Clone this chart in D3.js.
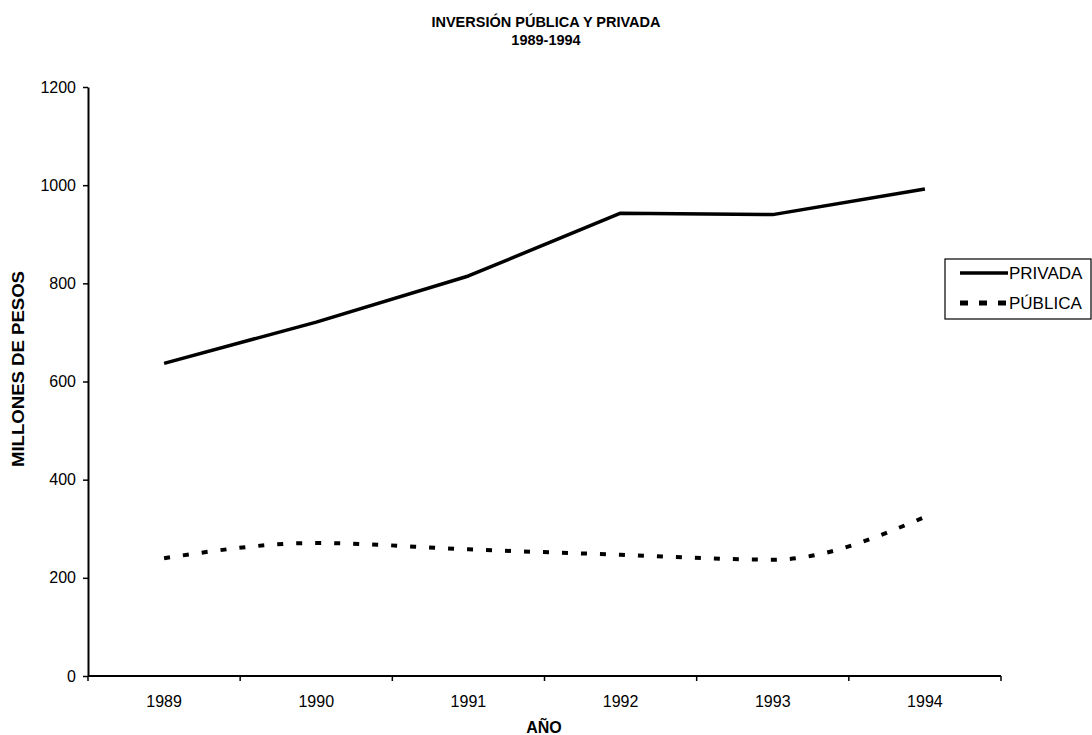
<!DOCTYPE html>
<html>
<head>
<meta charset="utf-8">
<script src="https://cdn.jsdelivr.net/npm/d3@7"></script>
<style>
  html, body { margin: 0; padding: 0; background: #fff; }
  svg { display: block; font-family: "Liberation Sans", Arial, sans-serif; }
</style>
</head>
<body>
<svg id="chart" width="1092" height="735"></svg>
<script>
// Inversión pública y privada, 1989-1994 (millones de pesos)
const years = ["1989", "1990", "1991", "1992", "1993", "1994"];
const privada = [637, 721, 815, 943, 940, 992];
const publica = [240, 271, 258, 247, 237, 324];
const yTicks = [0, 200, 400, 600, 800, 1000, 1200];
const seriesNames = ["PRIVADA", "PÚBLICA"];

const FONT = "Liberation Sans, Arial, sans-serif";
const svg = d3.select("#chart");
const margin = { left: 88, right: 1001, top: 87, bottom: 676 };

const x = d3.scaleBand().domain(years).range([margin.left, margin.right]);
const y = d3.scaleLinear().domain([0, 1200]).range([margin.bottom, margin.top]);

// Titles
svg.append("text").attr("x", 546).attr("y", 27).attr("text-anchor", "middle")
  .attr("font-size", 14.5).attr("font-weight", "bold").text("INVERSIÓN PÚBLICA Y PRIVADA");
svg.append("text").attr("x", 546).attr("y", 45).attr("text-anchor", "middle")
  .attr("font-size", 14.5).attr("font-weight", "bold").text("1989-1994");

// Y axis
const yAxis = svg.append("g").attr("transform", `translate(${margin.left},0)`)
  .call(d3.axisLeft(y).tickValues(yTicks).tickFormat(d3.format("d"))
    .tickSize(5).tickPadding(7).tickSizeOuter(0));
yAxis.attr("font-size", null).attr("font-family", null);
yAxis.select(".domain").attr("stroke", "#000").attr("stroke-width", 2);
yAxis.selectAll(".tick line").attr("stroke", "#000").attr("stroke-width", 1.5);
yAxis.selectAll(".tick text").attr("font-size", 16).attr("fill", "#000")
  .attr("font-family", FONT);

// X axis with ticks on category boundaries
const xAxisG = svg.append("g").attr("transform", `translate(0,${margin.bottom})`);
xAxisG.append("line").attr("x1", margin.left).attr("x2", margin.right)
  .attr("stroke", "#000").attr("stroke-width", 2);
const bounds = years.map(d => x(d)).concat([x(years[years.length - 1]) + x.bandwidth()]);
xAxisG.selectAll("line.tk").data(bounds).join("line").attr("class", "tk")
  .attr("x1", d => d).attr("x2", d => d).attr("y1", 0).attr("y2", 5)
  .attr("stroke", "#000").attr("stroke-width", 1.5);
xAxisG.selectAll("text").data(years).join("text")
  .attr("x", d => x(d) + x.bandwidth() / 2).attr("y", 31)
  .attr("text-anchor", "middle").attr("font-size", 16).text(d => d);

// Axis titles
svg.append("text").attr("x", 544).attr("y", 733).attr("text-anchor", "middle")
  .attr("font-size", 16).attr("font-weight", "bold").text("AÑO");
svg.append("text").attr("transform", "translate(24,369) rotate(-90)")
  .attr("text-anchor", "middle").attr("font-size", 16).attr("font-weight", "bold")
  .attr("textLength", 196).attr("lengthAdjust", "spacingAndGlyphs")
  .text("MILLONES DE PESOS");

const cx = d => x(d) + x.bandwidth() / 2;

// PRIVADA: solid line
const linePriv = d3.line().x((d, i) => cx(years[i])).y(d => y(d));
svg.append("path").datum(privada).attr("d", linePriv)
  .attr("fill", "none").attr("stroke", "#000").attr("stroke-width", 3.5)
  .attr("stroke-linejoin", "round");

// PÚBLICA: smoothed dashed line
const linePub = d3.line().x((d, i) => cx(years[i])).y(d => y(d)).curve(d3.curveMonotoneX);
svg.append("path").datum(publica).attr("d", linePub)
  .attr("fill", "none").attr("stroke", "#000").attr("stroke-width", 4)
  .attr("stroke-dasharray", "6,13");

// Legend
const lg = svg.append("g");
lg.append("rect").attr("x", 945).attr("y", 259).attr("width", 146).attr("height", 60)
  .attr("fill", "#fff").attr("stroke", "#000").attr("stroke-width", 1.2);
const legendStyles = [{ dash: null, w: 3.5 }, { dash: "8,11", w: 5 }];
seriesNames.forEach((name, i) => {
  const ly = 273 + i * 30;
  lg.append("line").attr("x1", 960).attr("x2", 1008).attr("y1", ly).attr("y2", ly)
    .attr("stroke", "#000").attr("stroke-width", legendStyles[i].w)
    .attr("stroke-dasharray", legendStyles[i].dash);
  lg.append("text").attr("x", 1009).attr("y", ly + 6).attr("font-size", 17).text(name);
});
</script>
</body>
</html>
